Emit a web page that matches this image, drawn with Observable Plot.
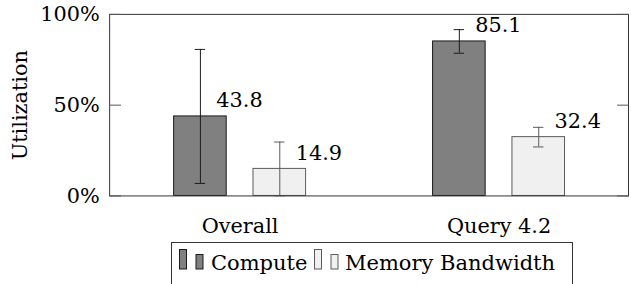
<!DOCTYPE html>
<html>
<head>
<meta charset="utf-8">
<script src="https://cdn.jsdelivr.net/npm/d3@7"></script>
<script src="https://cdn.jsdelivr.net/npm/@observablehq/plot@0.6"></script>
<style>
  html, body { margin: 0; padding: 0; background: white; overflow: hidden; }
  #wrap { position: relative; width: 631px; height: 284px; overflow: hidden; }
  #legend { position: absolute; left: 170px; top: 242px; }
</style>
</head>
<body>
<div id="wrap"><div id="chart"></div><div id="legend"></div></div>
<script>
const groups = ["Overall", "Query 4.2"];
const seriesNames = ["Compute", "Memory Bandwidth"];
const computeValues = [43.8, 85.1];
const computeErrors = [36.9, 6.5];
const memoryValues = [14.9, 32.4];
const memoryErrors = [14.8, 5.4];
const yTicks = [0, 50, 100];

const FONT = "DejaVu Serif";
const FS = 21;
const computeFill = "#808080", computeStroke = "#1a1a1a";
const memoryFill = "#f0f0f0", memoryStroke = "#5a5a5a";

const computeData = groups.map((g, i) => ({group: g, value: computeValues[i], err: computeErrors[i]}));
const memoryData = groups.map((g, i) => ({group: g, value: memoryValues[i], err: memoryErrors[i]}));

function seriesMarks(data, {fill, stroke, offset, insetLeft, insetRight}) {
  const capInset = 125.25;
  return [
    Plot.barY(data, {x: "group", y: "value", fill, stroke, strokeWidth: 1, insetLeft, insetRight}),
    Plot.ruleX(data, {x: "group", y1: d => Math.max(0, d.value - d.err), y2: d => d.value + d.err, dx: offset, stroke, strokeWidth: 1}),
    Plot.tickY(data, {x: "group", y: d => d.value + d.err, dx: offset, insetLeft: capInset, insetRight: capInset, stroke, strokeWidth: 1}),
    Plot.tickY(data, {x: "group", y: d => Math.max(0, d.value - d.err), dx: offset, insetLeft: capInset, insetRight: capInset, stroke, strokeWidth: 1}),
    Plot.text(data, {x: "group", y: "value", text: d => d.value.toFixed(1), dx: offset + 16, dy: -16, textAnchor: "start", lineAnchor: "middle", fill: "black", fontSize: FS})
  ];
}

const chart = Plot.plot({
  width: 636,
  height: 240,
  marginLeft: 110,
  marginRight: 3,
  marginTop: 14,
  marginBottom: 43,
  style: {fontFamily: FONT, fontSize: FS + "px", color: "black", background: "white", overflow: "visible"},
  x: {domain: groups, padding: 0, label: null},
  y: {domain: [0, 100], label: null},
  marks: [
    ...seriesMarks(computeData, {fill: computeFill, stroke: computeStroke, offset: -40, insetLeft: 64, insetRight: 144}),
    ...seriesMarks(memoryData, {fill: memoryFill, stroke: memoryStroke, offset: 40, insetLeft: 144, insetRight: 64}),
    Plot.frame({stroke: "#333", strokeWidth: 1}),
    Plot.axisY(yTicks, {tickSize: 0, tickPadding: 10, tickFormat: d => `${d}%`, fontSize: FS, label: null}),
    Plot.axisY(yTicks, {tickSize: 12, dx: 12, tickFormat: () => "", stroke: "#555", label: null}),
    Plot.axisY(yTicks, {anchor: "right", tickSize: 12, dx: -12, tickFormat: () => "", stroke: "#555", label: null}),
    Plot.axisX({tickSize: 0, tickPadding: 22, fontSize: FS, label: null}),
    Plot.text(["Utilization"], {text: d => d, frameAnchor: "left", textAnchor: "middle", lineAnchor: "middle", dx: -90, rotate: -90, fontSize: FS, fill: "black"})
  ]
});
document.getElementById("chart").appendChild(chart);

// Legend
const lsvg = d3.select("#legend").append("svg")
  .attr("width", 410).attr("height", 44)
  .style("font-family", FONT).style("font-size", FS + "px");
lsvg.append("rect").attr("x", 1.5).attr("y", 0.5).attr("width", 401).attr("height", 100)
  .attr("fill", "white").attr("stroke", "#333");
const legendItems = [
  {name: seriesNames[0], fill: computeFill, stroke: computeStroke, x: 9.5, tx: 41},
  {name: seriesNames[1], fill: memoryFill, stroke: memoryStroke, x: 144.5, tx: 175}
];
for (const it of legendItems) {
  lsvg.append("rect").attr("x", it.x).attr("y", 7.5).attr("width", 7).attr("height", 19.5)
    .attr("fill", it.fill).attr("stroke", it.stroke);
  lsvg.append("rect").attr("x", it.x + 16.5).attr("y", 12.5).attr("width", 7).attr("height", 14.5)
    .attr("fill", it.fill).attr("stroke", it.stroke);
  lsvg.append("text").attr("x", it.tx).attr("y", 27.5).attr("fill", "black").text(it.name);
}
</script>
</body>
</html>
